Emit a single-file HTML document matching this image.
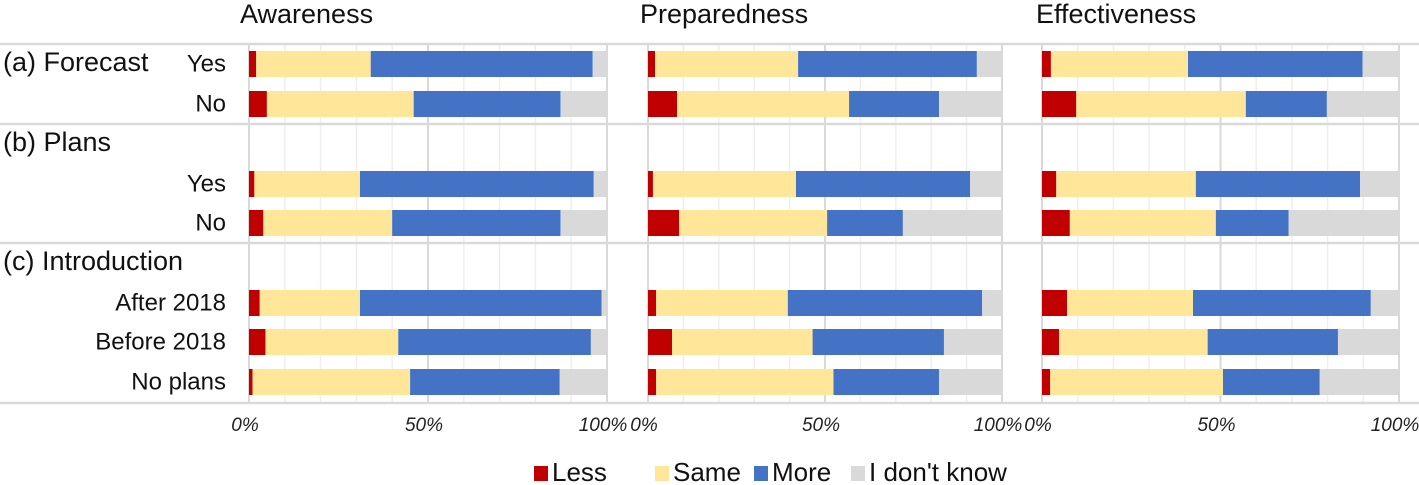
<!DOCTYPE html>
<html><head><meta charset="utf-8"><style>
html,body{margin:0;padding:0;background:#fff;}
svg{display:block;font-family:"Liberation Sans",Arial,sans-serif;}
</style></head><body>
<svg id="chart" width="1419" height="485" viewBox="0 0 1419 485" xmlns="http://www.w3.org/2000/svg"></svg>
<script>
const panels = ["Awareness","Preparedness","Effectiveness"];
const rowLabels = ["Yes","No","Yes","No","After 2018","Before 2018","No plans"];
const groupLabels = ["(a) Forecast","(b) Plans","(c) Introduction"];
const categories = ["Less","Same","More","I don't know"];
const tickLabels = ["0%","50%","100%"];
const tickValues = [0,50,100];
const awarenessLess = [2,5,1.5,4,3,4.6,1];
const awarenessSame = [32,41,29.5,36,28,37.1,44];
const awarenessMore = [62,41,65.3,47,67.5,53.8,41.8];
const awarenessIdk = [4,13,3.7,13,1.5,4.5,13.2];
const prepLess = [2,8.2,1.4,8.8,2.3,6.8,2.3];
const prepSame = [40.4,48.6,40.4,41.8,37.2,39.7,50.1];
const prepMore = [50.5,25.4,49.2,21.4,54.9,37.1,29.8];
const prepIdk = [7.1,17.8,9,28,5.6,16.4,17.8];
const effLess = [2.5,9.6,4,7.8,7,4.8,2.3];
const effSame = [38.4,47.5,39.1,40.9,35.3,41.6,48.4];
const effMore = [48.9,22.7,46,20.4,49.8,36.5,27.1];
const effIdk = [10.2,20.2,10.9,30.9,7.9,17.1,22.2];

const series = [[awarenessLess,awarenessSame,awarenessMore,awarenessIdk],[prepLess,prepSame,prepMore,prepIdk],[effLess,effSame,effMore,effIdk]];
const colors = ["#c00000","#ffe699","#4472c4","#d9d9d9"];
const panelX = [[249,607],[648,1002],[1042,1399]];
const titleX = [240,640,1036];
const rowY = [64,104,184,223,303,342,382];
const groupY = [64,144,263];
const sepY = [44,124,243,403];
const barH = 26;
const svg = document.getElementById('chart');
const NS = "http://www.w3.org/2000/svg";
function mk(tag, attrs, parent){const e=document.createElementNS(NS,tag);for(const k in attrs)e.setAttribute(k,attrs[k]);(parent||svg).appendChild(e);return e;}
function xScale(p,v){return panelX[p][0]+(panelX[p][1]-panelX[p][0])*v/100;}

for(let p=0;p<3;p++){
  for(let t=0;t<=100;t+=10){
    const l=mk('line',{x1:xScale(p,t),x2:xScale(p,t),y1:sepY[0],y2:sepY[3],stroke:(t%50===0)?'#d9d9d9':'#efefef','stroke-width':(t%50===0)?2:1.5});
    
    
  }
  const tt=mk('text',{x:titleX[p],y:16,'font-size':27,fill:'#111','dominant-baseline':'middle'});
  tt.textContent=panels[p];
  
  
  tickValues.forEach((v,i)=>{
    const t=mk('text',{x:xScale(p,v)-4,y:426,'font-size':19,'font-style':'italic',fill:'#222','text-anchor':'middle','dominant-baseline':'middle'});
    t.textContent=tickLabels[i];
    
    
  });
}
sepY.forEach(y=>{
  const l=mk('line',{x1:0,x2:1419,y1:y,y2:y,stroke:'#d9d9d9','stroke-width':2.5});
  
  
});
for(let p=0;p<3;p++){
  for(let r=0;r<rowY.length;r++){
    let cum=0;
    for(let s=0;s<4;s++){
      const v=series[p][s][r];
      const x0=xScale(p,cum), x1=xScale(p,Math.min(100,cum+v));
      const b=mk('rect',{x:x0,y:rowY[r]-barH/2,width:Math.max(0,x1-x0),height:barH,fill:colors[s]});
      
      
      cum+=v;
    }
  }
}
rowLabels.forEach((lab,i)=>{
  const t=mk('text',{x:226,y:rowY[i]+1,'font-size':24,fill:'#111','text-anchor':'end','dominant-baseline':'middle'});
  t.textContent=lab;
  
  
});
groupLabels.forEach((lab,i)=>{
  const t=mk('text',{x:3,y:groupY[i],'font-size':27,fill:'#111','dominant-baseline':'middle'});
  t.textContent=lab;
  
  
});
const legX=[534,655,754,851];
categories.forEach((c,i)=>{
  const r=mk('rect',{x:legX[i],y:466,width:14,height:15,fill:colors[i]});
  
  
  const t=mk('text',{x:legX[i]+18,y:474,'font-size':26,fill:'#111','dominant-baseline':'middle'});
  t.textContent=c;
  
  
});
</script>
</body></html>
